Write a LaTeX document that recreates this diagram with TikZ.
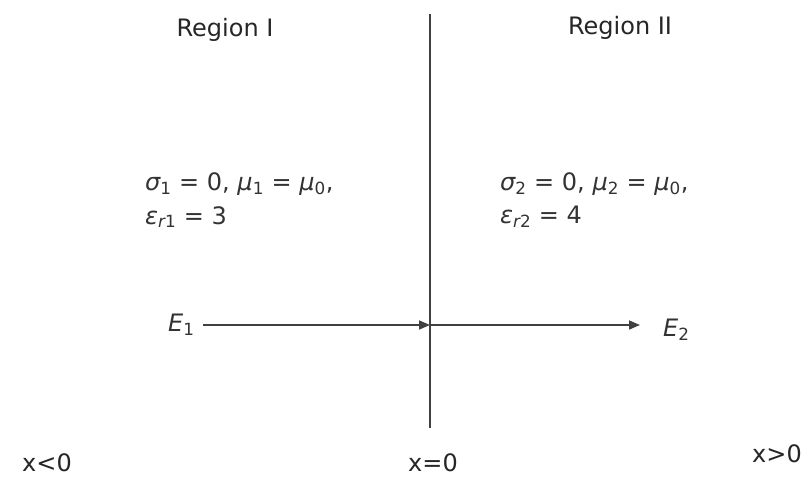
\documentclass[tikz,border=0pt]{standalone}
\usepackage{fontspec}
\setmainfont{DejaVu Sans}
\usetikzlibrary{arrows.meta}
\begin{document}
\begin{tikzpicture}[x=1pt,y=-1pt,
  lbl/.style={font=\fontsize{24}{28}\selectfont, text=black!85, inner sep=0pt},
  eq/.style={font=\fontsize{24}{28}\selectfont, text=black!80, inner sep=0pt, anchor=west},
  wire/.style={line width=1.6pt, draw=black!75},
  arr/.style={wire, -{Triangle[length=11pt,width=9pt]}}]
\useasboundingbox (0,0) rectangle (808,481);
\node[lbl] (r1) at (225,30) {Region I};
\node[lbl] (r2) at (620,28) {Region II};
\coordinate (top) at (430,14);
\coordinate (bot) at (430,428);
\draw[wire] (top) -- (bot);
\node[eq] (s1) at (145,184) {{\itshape σ}\textsubscript{1} = 0, {\itshape μ}\textsubscript{1} = {\itshape μ}\textsubscript{0},};
\node[eq] (e1) at (145,217) {{\itshape ε}\textsubscript{{\itshape r}1} = 3};
\node[eq] (s2) at (500,184) {{\itshape σ}\textsubscript{2} = 0, {\itshape μ}\textsubscript{2} = {\itshape μ}\textsubscript{0},};
\node[eq] (e2) at (500,217) {{\itshape ε}\textsubscript{{\itshape r}2} = 4};
\node[eq] (E1) at (168,325) {{\itshape E}\textsubscript{1}};
\node[eq] (E2) at (663,330) {{\itshape E}\textsubscript{2}};
\coordinate (mid) at (430,325);
\coordinate (tip) at (640,325);
\draw[arr] (203,325) -- (mid);
\draw[arr] (mid) -- (tip);
\node[lbl] (xl) at (47,463) {x<0};
\node[lbl] (x0) at (433,463) {x=0};
\node[lbl] (xr) at (777,454) {x>0};
\end{tikzpicture}
\end{document}
